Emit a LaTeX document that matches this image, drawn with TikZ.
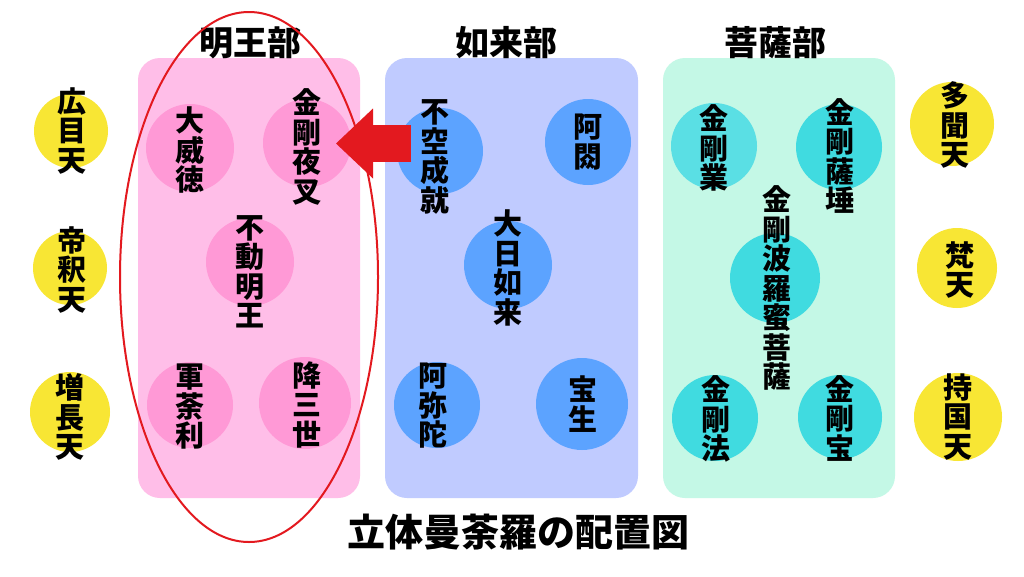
\documentclass[tikz,border=0pt]{standalone}
\usepackage{fontspec}
\newfontfamily\jp{Noto Sans CJK JP}
\usetikzlibrary{arrows.meta}

\definecolor{pinkbox}{HTML}{FFBEE8}
\definecolor{pinkdot}{HTML}{FF99D6}
\definecolor{bluebox}{HTML}{C0CBFF}
\definecolor{bluedot}{HTML}{5CA3FF}
\definecolor{greenbox}{HTML}{C4F8E6}
\definecolor{greendot}{HTML}{40DBE0}
\definecolor{greenlite}{HTML}{5ADFE4}
\definecolor{tenyellow}{HTML}{F8E634}
\definecolor{ringred}{HTML}{E3191F}

\tikzset{
  group/.style={fill=#1, rounded corners=22pt, inner sep=0pt},
  dot/.style={circle, fill=#1, inner sep=0pt, minimum size=88pt},
  tate/.style={font=\jp\bfseries\fontsize{29}{29.5}\selectfont, align=center, inner sep=0pt},
  bu/.style={font=\jp\bfseries\fontsize{34}{34}\selectfont, inner sep=0pt},
  bigarrow/.style={draw=ringred, line width=37pt,
    -{Triangle[length=37pt, width=70pt, line width=0pt]}}
}

\begin{document}
\begin{tikzpicture}[x=1pt, y=-1pt]
        \fill[white] (0, 0) rectangle (1024, 576);
        \useasboundingbox (0, 0) rectangle (1024, 576);
        % groups
        \node[group=pinkbox, minimum width=222pt, minimum height=440pt] (myoo) at (249, 278) {};
        \node[group=bluebox, minimum width=253pt, minimum height=440pt] (nyorai) at (511.5, 278) {};
        \node[group=greenbox, minimum width=232pt, minimum height=440pt] (bosatsu) at (779, 278) {};
        \node[bu] (myootitle) at (250, 43) {明王部};
        \node[bu] (nyoraititle) at (506, 43) {如来部};
        \node[bu] (bosatsutitle) at (775, 43) {菩薩部};
        % myoo
        \node[dot=pinkdot] (daiitoku) at (190, 148) {};
        \node[dot=pinkdot] (kongoyasha) at (307, 143) {};
        \node[dot=pinkdot] (fudo) at (250, 262) {};
        \node[dot=pinkdot, minimum size=86pt] (gundari) at (190, 405) {};
        \node[dot=pinkdot, minimum size=92pt] (gozanze) at (305, 403) {};
        \node[tate] (tdaiitoku) at (190, 150) {大\\威\\徳};
        \node[tate] (tkongoyasha) at (307, 147) {金\\剛\\夜\\叉};
        \node[tate] (tfudo) at (250, 272) {不\\動\\明\\王};
        \node[tate] (tgundari) at (190, 407) {軍\\荼\\利};
        \node[tate] (tgozanze) at (307, 405) {降\\三\\世};
        % nyorai
        \node[dot=bluedot, minimum size=86pt] (fukujoju) at (440, 151) {};
        \node[dot=bluedot, minimum size=86pt] (ashuku) at (588, 142) {};
        \node[dot=bluedot] (dainichi) at (508, 265) {};
        \node[dot=bluedot, minimum size=86pt] (amida) at (437, 405) {};
        \node[dot=bluedot, minimum size=92pt] (hosho) at (582, 404) {};
        \node[tate] (tfukujoju) at (435, 157) {不\\空\\成\\就};
        \node[tate] (tashuku) at (588, 142) {阿\\閦};
        \node[tate] (tdainichi) at (508, 268) {大\\日\\如\\来};
        \node[tate] (tamida) at (433, 406) {阿\\弥\\陀};
        \node[tate] (thosho) at (583, 404) {宝\\生};
        % bosatsu
        \node[dot=greenlite, minimum size=86pt] (kongogo) at (714, 146) {};
        \node[dot=greendot, minimum size=86pt] (kongosatta) at (839, 147) {};
        \node[dot=greendot, minimum size=90pt] (haramitsu) at (775, 278) {};
        \node[dot=greendot, minimum size=86pt] (kongoho) at (715, 418) {};
        \node[dot=greendot, minimum size=84pt] (kongobo) at (840, 417) {};
        \node[tate] (tkongogo) at (714, 148) {金\\剛\\業};
        \node[tate] (tkongosatta) at (840, 156) {金\\剛\\薩\\埵};
        \node[tate] (tharamitsu) at (777, 288) {金\\剛\\波\\羅\\蜜\\菩\\薩};
        \node[tate] (tkongoho) at (716, 419) {金\\剛\\法};
        \node[tate] (tkongobo) at (840, 418) {金\\剛\\宝};
        % ten
        \node[dot=tenyellow, minimum size=74pt] (komoku) at (71, 131) {};
        \node[dot=tenyellow, minimum size=74pt] (taishaku) at (70, 268) {};
        \node[dot=tenyellow, minimum size=80pt] (zocho) at (70, 412) {};
        \node[dot=tenyellow, minimum size=84pt] (tamon) at (952, 124) {};
        \node[dot=tenyellow, minimum size=80pt] (bonten) at (957, 268) {};
        \node[dot=tenyellow, minimum size=88pt] (jikoku) at (958, 417) {};
        \node[tate] (tkomoku) at (72, 131) {広\\目\\天};
        \node[tate] (ttaishaku) at (72, 270) {帝\\釈\\天};
        \node[tate] (tzocho) at (70, 417) {増\\長\\天};
        \node[tate] (ttamon) at (955, 125) {多\\聞\\天};
        \node[tate] (tbonten) at (960, 270) {梵\\天};
        \node[tate] (tjikoku) at (958, 417) {持\\国\\天};
        % ring and arrow
        \draw[ringred, line width=2pt] (249, 277) ellipse [x radius=129, y radius=265];
        \coordinate (arrowtail) at (411, 143.5);
        \coordinate (arrowtip) at (336, 143.5);
        \draw[bigarrow] (arrowtail) -- (arrowtip);
        \node[font=\jp\bfseries\fontsize{38}{38}\selectfont, inner sep=0pt] (zutitle) at (518, 532) {立体曼荼羅の配置図};
    \end{tikzpicture}
\end{document}
